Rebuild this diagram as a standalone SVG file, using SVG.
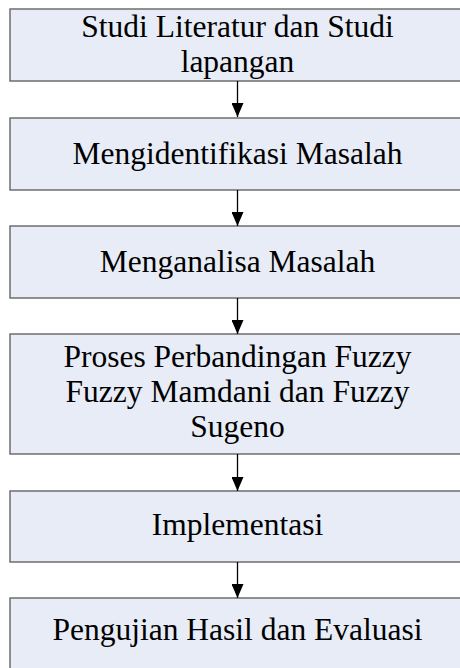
<svg xmlns="http://www.w3.org/2000/svg" width="460" height="668" viewBox="0 0 460 668">
<defs>
<style>
.box{fill:#E7ECF7;stroke:#6e6e6e;stroke-width:1.5}
.t{font-size:31.5px;fill:#000;text-anchor:middle}
.c{stroke:#000;stroke-width:1.3;fill:none}
</style>
<marker id="ah" markerWidth="14" markerHeight="12" refX="14" refY="6" orient="auto" markerUnits="userSpaceOnUse" viewBox="0 0 14 12">
<path d="M0,0 L14,6 L0,12 Z" fill="#000"/>
</marker>
</defs>
<rect width="460" height="668" fill="#fff"/>
<g font-family="'Liberation Serif', Tinos, 'Times New Roman', 'DejaVu Serif', serif">
<g id="n1"><rect class="box" x="10" y="9" width="456" height="72"/><text class="t" x="237.5" y="37">Studi Literatur dan Studi</text><text class="t" x="237.5" y="72">lapangan</text></g>
<g id="n2"><rect class="box" x="10" y="118" width="456" height="72"/><text class="t" x="237.5" y="164">Mengidentifikasi Masalah</text></g>
<g id="n3"><rect class="box" x="10" y="226" width="456" height="72"/><text class="t" x="237.5" y="272">Menganalisa Masalah</text></g>
<g id="n4"><rect class="box" x="10" y="334" width="456" height="120"/><text class="t" x="237.5" y="367">Proses Perbandingan Fuzzy</text><text class="t" x="237.5" y="402">Fuzzy Mamdani dan Fuzzy</text><text class="t" x="237.5" y="437">Sugeno</text></g>
<g id="n5"><rect class="box" x="10" y="491" width="456" height="71"/><text class="t" x="237.5" y="535">Implementasi</text></g>
<g id="n6"><rect class="box" x="10" y="598" width="456" height="74"/><text class="t" x="237.5" y="640">Pengujian Hasil dan Evaluasi</text></g>
</g>
<g id="connectors">
<line class="c" x1="237.5" y1="81" x2="237.5" y2="117" marker-end="url(#ah)"/>
<line class="c" x1="237.5" y1="190" x2="237.5" y2="226" marker-end="url(#ah)"/>
<line class="c" x1="237.5" y1="298" x2="237.5" y2="334" marker-end="url(#ah)"/>
<line class="c" x1="237.5" y1="454" x2="237.5" y2="491" marker-end="url(#ah)"/>
<line class="c" x1="237.5" y1="562" x2="237.5" y2="598" marker-end="url(#ah)"/>
</g>
</svg>
